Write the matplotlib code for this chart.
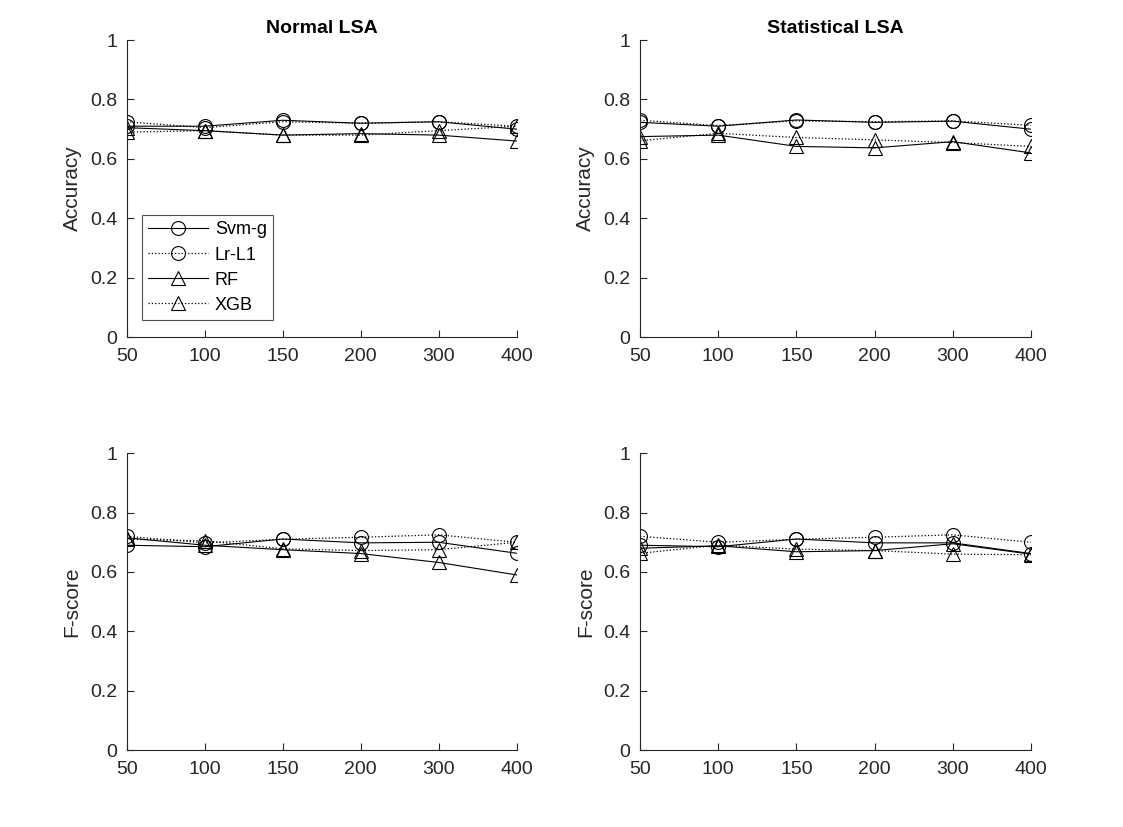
import matplotlib
matplotlib.use('Agg')
import matplotlib.pyplot as plt
import numpy as np

plt.rcParams['font.family'] = ['Liberation Sans', 'DejaVu Sans']

dims = ['50', '100', '150', '200', '300', '400']
models = ['Svm-g', 'Lr-L1', 'RF', 'XGB']

# accuracy, normal LSA
acc_normal = {
    'Svm-g': [0.71, 0.71, 0.73, 0.72, 0.725, 0.70],
    'Lr-L1': [0.725, 0.705, 0.725, 0.72, 0.725, 0.71],
    'RF': [0.705, 0.695, 0.68, 0.685, 0.68, 0.66],
    'XGB': [0.69, 0.695, 0.68, 0.68, 0.695, 0.71],
}
# accuracy, statistical LSA
acc_stat = {
    'Svm-g': [0.723, 0.71, 0.731, 0.723, 0.727, 0.70],
    'Lr-L1': [0.73, 0.712, 0.728, 0.725, 0.728, 0.713],
    'RF': [0.675, 0.68, 0.642, 0.637, 0.658, 0.62],
    'XGB': [0.661, 0.686, 0.672, 0.664, 0.655, 0.642],
}
# f-score, normal LSA
f_normal = {
    'Svm-g': [0.69, 0.685, 0.711, 0.698, 0.70, 0.663],
    'Lr-L1': [0.72, 0.698, 0.71, 0.717, 0.725, 0.70],
    'RF': [0.715, 0.69, 0.675, 0.662, 0.632, 0.59],
    'XGB': [0.71, 0.705, 0.678, 0.672, 0.675, 0.70],
}
# f-score, statistical LSA
f_stat = {
    'Svm-g': [0.69, 0.685, 0.711, 0.698, 0.698, 0.662],
    'Lr-L1': [0.72, 0.70, 0.71, 0.717, 0.725, 0.70],
    'RF': [0.68, 0.688, 0.668, 0.672, 0.695, 0.66],
    'XGB': [0.663, 0.69, 0.677, 0.672, 0.66, 0.658],
}

styles = {
    'Svm-g': ('-', 'o'),
    'Lr-L1': (':', 'o'),
    'RF': ('-', '^'),
    'XGB': (':', '^'),
}

fig = plt.figure(figsize=(11.23, 8.27), dpi=100)
boxes = [
    [0.113, 0.5925, 0.347, 0.359],
    [0.570, 0.5925, 0.348, 0.359],
    [0.113, 0.093, 0.347, 0.359],
    [0.570, 0.093, 0.348, 0.359],
]
panels = [acc_normal, acc_stat, f_normal, f_stat]
ylabels = ['Accuracy', 'Accuracy', 'F-score', 'F-score']
titles = ['Normal LSA', 'Statistical LSA', None, None]

x = np.arange(len(dims))
for i in range(4):
    ax = fig.add_axes(boxes[i])
    data = panels[i]
    for m in models:
        ls, mk = styles[m]
        ax.plot(x, data[m], linestyle=ls, marker=mk, color='black',
                linewidth=0.8 if ls == '-' else 0.9, markersize=10,
                markerfacecolor='none', markeredgewidth=0.8, label=m)
    ax.set_xlim(0, 5)
    ax.set_ylim(0, 1)
    ax.set_xticks(x)
    ax.set_xticklabels(dims)
    ax.set_yticks([0, 0.2, 0.4, 0.6, 0.8, 1])
    ax.set_yticklabels(['0', '0.2', '0.4', '0.6', '0.8', '1'])
    ax.spines['top'].set_visible(False)
    ax.spines['right'].set_visible(False)
    ax.spines['left'].set_color('#262626')
    ax.spines['bottom'].set_color('#262626')
    ax.tick_params(direction='in', labelsize=14, colors='#262626', length=5, pad=7)
    ax.tick_params(axis='x', pad=8)
    ax.set_ylabel(ylabels[i], fontsize=15, color='#262626', labelpad=6)
    if titles[i]:
        ax.set_title(titles[i], fontsize=14, fontweight='bold', pad=5)
    if i == 0:
        leg = ax.legend(loc='lower left', bbox_to_anchor=(0.038, 0.057),
                        borderaxespad=0, fontsize=13, frameon=True,
                        fancybox=False, edgecolor='#262626', handlelength=3.3,
                        borderpad=0.35, labelspacing=0.45, handletextpad=0.4)
        leg.get_frame().set_linewidth(0.8)

fig.savefig('out.png', dpi=100)
